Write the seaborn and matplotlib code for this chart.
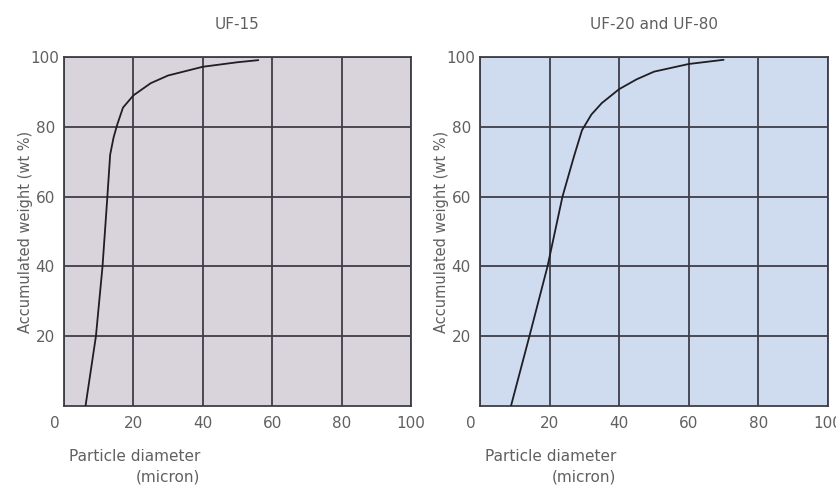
import matplotlib
matplotlib.use("Agg")
import matplotlib.pyplot as plt
import matplotlib.transforms as mtransforms
import seaborn as sns
import pandas as pd

# ---- data ----
titles = ["UF-15", "UF-20 and UF-80"]
uf15_x = [6.2, 9.2, 11.1, 12.5, 13.3, 14.3, 15.3, 17.0, 20.0, 25, 30, 40, 50, 56]
uf15_y = [0, 20, 40, 60, 72, 77, 80.5, 85.5, 89, 92.5, 94.7, 97.2, 98.5, 99.1]
uf20_x = [8.9, 14.2, 19.4, 23.7, 27.0, 29.3, 32, 35, 40, 45, 50, 60, 70]
uf20_y = [0, 20, 40, 60, 71.5, 79, 83.5, 86.8, 90.8, 93.6, 95.8, 98.0, 99.2]
x_ticks = [0, 20, 40, 60, 80, 100]
y_ticks = [20, 40, 60, 80, 100]
x_label = "Particle diameter\n(micron)"
y_label = "Accumulated weight (wt %)"
bg_colors = ["#d9d3dc", "#cfdbee"]

sns.set_theme(style="white")
plt.rcParams["font.family"] = ["DejaVu Sans"]
text_col = "#606060"
grid_col = "#3e3e48"

W, H = 836, 487
fig = plt.figure(figsize=(W / 100, H / 100), dpi=100)
fig.patch.set_facecolor("white")

axes_px = [(64, 57, 411, 406), (480, 57, 828, 406)]
datasets = [(uf15_x, uf15_y), (uf20_x, uf20_y)]

for i, ((l, t, r, b), (xs, ys)) in enumerate(zip(axes_px, datasets)):
    ax = fig.add_axes([l / W, 1 - b / H, (r - l) / W, (b - t) / H])
    ax.set_facecolor(bg_colors[i])
    df = pd.DataFrame({"d": xs, "w": ys})
    sns.lineplot(data=df, x="d", y="w", ax=ax, color="#1e1e24", linewidth=1.3, zorder=3)
    ax.set_xlim(0, 100)
    ax.set_ylim(0, 100)
    ax.set_xticks(x_ticks)
    ax.set_yticks(y_ticks)
    ax.grid(True, color=grid_col, linewidth=1.3, zorder=1)
    for s in ax.spines.values():
        s.set_color(grid_col)
        s.set_linewidth(1.3)
    ax.tick_params(axis="both", length=0, labelsize=11, colors=text_col)
    ax.tick_params(axis="x", pad=7)
    ax.tick_params(axis="y", pad=13.5)
    for lab in ax.get_yticklabels():
        lab.set_horizontalalignment("center")
    xl = ax.get_xticklabels()
    off = mtransforms.ScaledTranslation(-9 / 100, 0, fig.dpi_scale_trans)
    xl[0].set_transform(xl[0].get_transform() + off)
    ax.set_xlabel("")
    ax.set_ylabel(y_label, fontsize=10.5, color=text_col)
    ax.yaxis.set_label_coords(-0.089, 0.5)
    ax.set_title(titles[i], fontsize=11, color=text_col, pad=20)
    ax.text((l + 136) / W, 1 - 467 / H, x_label, transform=fig.transFigure,
            ha="right", va="center", multialignment="right",
            fontsize=11, color=text_col, linespacing=1.45)

fig.savefig("out.png", dpi=100)
